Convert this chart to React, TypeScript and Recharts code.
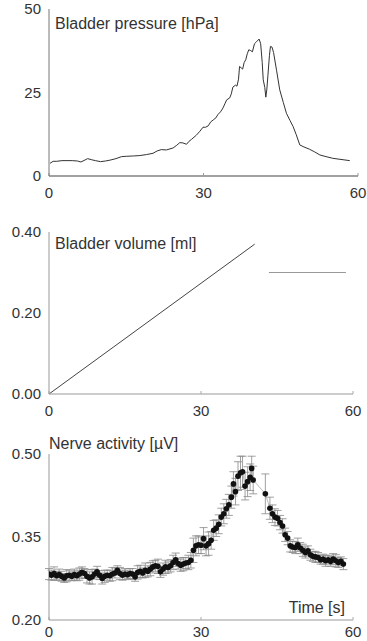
import React from 'react';
import { LineChart, Line, XAxis, YAxis, ErrorBar } from 'recharts';

const FONT = '"Liberation Sans", Arial, Helvetica, sans-serif';

// Panel 1: bladder pressure [hPa]
const pressureTime = [0.2,0.8,1.5,2.5,3.5,4.5,5.5,6.2,7.0,7.5,8.2,9.0,10.0,11.0,12.0,13.0,14.1,15.0,16.4,17.5,18.9,20.2,21.0,21.8,22.8,24.1,24.8,25.4,26.0,26.7,27.2,27.7,28.6,29.3,29.9,30.4,30.9,31.4,31.9,32.4,32.8,33.3,33.8,34.2,34.5,35.1,35.4,35.7,36.2,36.5,36.8,37.0,37.3,37.6,37.9,38.2,38.5,38.8,39.1,39.5,39.9,40.3,40.8,41.1,41.4,41.6,41.9,42.1,42.3,42.5,42.8,43.0,43.3,43.6,44.2,44.8,45.5,46.1,46.8,47.4,48.0,48.7,49.5,50.6,51.6,52.6,53.8,55.1,56.5,58.4];
const pressureValue = [3.8,4.4,4.4,4.6,4.6,4.6,4.5,4.2,4.8,5.2,4.9,4.6,4.3,4.5,4.8,5.2,5.8,5.9,6.0,6.1,6.4,6.8,7.5,7.9,7.8,8.4,9.2,10.0,9.9,9.5,10.4,11.0,12.2,13.4,14.6,14.6,15.0,16.2,16.8,17.4,18.4,19.2,20.4,21.8,22.8,23.4,24.6,26.6,27.2,26.9,29.0,32.8,32.4,32.0,34.0,34.8,36.6,37.8,37.6,37.2,39.6,40.2,41.0,39.6,34.0,28.8,26.5,23.6,26.0,30.0,36.0,38.8,38.6,37.0,31.5,25.8,22.0,18.8,16.6,14.8,12.4,9.3,8.7,8.0,7.2,6.3,5.8,5.3,5.0,4.6];

// Panel 2: bladder volume [ml]
const volumeFillTime = [0, 40.6];
const volumeFillValue = [0, 0.37];
const volumeAfterTime = [43.4, 58.6];
const volumeAfterValue = [0.30, 0.30];

// Panel 3: nerve activity [µV] with error bars
const nerveTime = [
  0,0.5,1,1.5,2,2.5,3,3.5,
  4,4.5,5,5.5,6,6.5,7,7.5,
  8,8.5,9,9.5,10,10.5,11,11.5,
  12,12.5,13,13.5,14,14.5,15,15.5,
  16,16.5,17,17.5,18,18.5,19,19.5,
  20,20.5,21,21.5,22,22.5,23,23.5,
  24,24.5,25,25.5,26,26.5,27,27.5,
  28,28.5,29,29.5,30,30.5,31,31.5,
  32,32.5,33,33.5,34,34.5,35,35.5,
  36,36.4,36.8,37.3,37.8,38.2,38.7,39.2,39.7,40.0,40.3,
  42.7,43.6,44.1,44.6,45.1,45.6,46.1,46.6,47.1,47.6,48.1,48.6,49.1,49.6,50.1,50.6,51.1,51.6,52.1,52.6,53.1,53.6,54.1,54.6,55.1,55.6,56.1,56.6,57.1,57.6,58.1
];
const nerveValue = [
  0.283,0.281,0.284,0.280,0.282,0.279,0.276,0.280,
  0.281,0.279,0.282,0.280,0.283,0.286,0.284,0.279,
  0.276,0.278,0.283,0.287,0.281,0.275,0.279,0.281,
  0.280,0.283,0.285,0.290,0.284,0.281,0.283,0.282,
  0.284,0.283,0.278,0.286,0.288,0.285,0.290,0.288,
  0.292,0.296,0.298,0.297,0.287,0.292,0.296,0.295,
  0.298,0.304,0.309,0.302,0.299,0.301,0.303,0.304,
  0.308,0.326,0.334,0.336,0.335,0.347,0.334,0.338,
  0.344,0.362,0.366,0.373,0.386,0.392,0.401,0.408,
  0.422,0.446,0.432,0.460,0.466,0.468,0.442,0.450,0.458,0.474,0.453,
  0.428,0.402,0.392,0.386,0.384,0.376,0.370,0.354,0.348,0.334,0.332,0.331,0.336,0.330,0.326,0.322,0.325,0.318,0.315,0.314,0.313,0.309,0.310,0.307,0.309,0.306,0.310,0.307,0.304,0.306,0.301
];
const nerveError = [
  0.010,0.009,0.012,0.008,0.010,0.009,0.008,0.011,
  0.009,0.008,0.010,0.009,0.011,0.010,0.009,0.012,
  0.011,0.013,0.009,0.010,0.008,0.010,0.011,0.009,
  0.010,0.012,0.009,0.008,0.011,0.009,0.010,0.008,
  0.009,0.010,0.008,0.012,0.011,0.009,0.013,0.010,
  0.012,0.011,0.010,0.013,0.010,0.011,0.012,0.010,
  0.011,0.013,0.012,0.010,0.011,0.012,0.010,0.013,
  0.014,0.022,0.018,0.016,0.015,0.020,0.018,0.021,
  0.016,0.018,0.015,0.017,0.016,0.018,0.017,0.019,
  0.020,0.022,0.024,0.026,0.030,0.028,0.025,0.027,0.024,0.022,0.025,
  0.036,0.020,0.016,0.015,0.014,0.013,0.013,0.012,0.012,0.011,0.010,0.011,0.012,0.010,0.011,0.010,0.009,0.010,0.009,0.010,0.009,0.008,0.009,0.010,0.008,0.009,0.010,0.011,0.009,0.008,0.010
];

const xTicks = [0, 30, 60];
const pressureTicks = [0, 25, 50];
const volumeTicks = [0, 0.2, 0.4];
const nerveTicks = [0.2, 0.35, 0.5];

const pressureRows = pressureTime.map((t, i) => ({ t, p: pressureValue[i] }));
const volumeFillRows = volumeFillTime.map((t, i) => ({ t, v: volumeFillValue[i] }));
const volumeAfterRows = volumeAfterTime.map((t, i) => ({ t, v: volumeAfterValue[i] }));
const nerveRows = nerveTime.map((t, i) => ({ t, n: nerveValue[i], e: nerveError[i] }));

const tickStyle = { fill: '#333', fontSize: 15, fontFamily: FONT };

const titleStyle = (left: number, top: number): React.CSSProperties => ({
  position: 'absolute',
  left,
  top,
  fontFamily: FONT,
  fontSize: 16,
  lineHeight: '16px',
  color: '#333',
  whiteSpace: 'nowrap',
});

export default function App() {
  return (
    <div style={{ position: 'absolute', left: 0, top: 0, width: 367, height: 641, background: '#fff', overflow: 'hidden' }}>
      {/* Panel 1 */}
      <div style={{ position: 'absolute', left: 0, top: 0 }}>
        <LineChart width={367} height={210} data={pressureRows} margin={{ top: 9, right: 9, bottom: 4, left: 0 }}>
          <XAxis type="number" dataKey="t" domain={[0, 60]} ticks={xTicks} allowDataOverflow
            tickSize={-3} tickMargin={14} height={30}
            axisLine={{ stroke: '#444', strokeWidth: 1.2 }} tickLine={{ stroke: '#999' }} tick={tickStyle} />
          <YAxis type="number" domain={[0, 50]} ticks={pressureTicks} width={49} tickLine={false}
            tickMargin={2} axisLine={{ stroke: '#777' }} tick={tickStyle} />
          <Line dataKey="p" type="linear" stroke="#333" strokeWidth={1} dot={false} isAnimationActive={false} />
        </LineChart>
        <div style={titleStyle(55, 16)}>Bladder pressure [hPa]</div>
      </div>

      {/* Panel 2 */}
      <div style={{ position: 'absolute', left: 0, top: 210 }}>
        <LineChart width={367} height={210} margin={{ top: 22, right: 14, bottom: 6, left: 0 }}>
          <XAxis type="number" dataKey="t" domain={[0, 60]} ticks={xTicks} allowDataOverflow
            tickSize={-3} tickMargin={14} height={20}
            axisLine={{ stroke: '#999' }} tickLine={{ stroke: '#aaa' }} tick={tickStyle} />
          <YAxis type="number" domain={[0, 0.4]} ticks={volumeTicks} width={49} tickLine={false}
            tickMargin={2} axisLine={{ stroke: '#999' }} tick={tickStyle}
            tickFormatter={(v: number) => v.toFixed(2)} />
          <Line data={volumeFillRows} dataKey="v" type="linear" stroke="#444" strokeWidth={1} dot={false} isAnimationActive={false} />
          <Line data={volumeAfterRows} dataKey="v" type="linear" stroke="#999" strokeWidth={1} dot={false} isAnimationActive={false} />
        </LineChart>
        <div style={titleStyle(55, 26)}>Bladder volume [ml]</div>
      </div>

      {/* Panel 3 */}
      <div style={{ position: 'absolute', left: 0, top: 420 }}>
        <LineChart width={367} height={221} data={nerveRows} margin={{ top: 34, right: 14, bottom: 1, left: 0 }}>
          <XAxis type="number" dataKey="t" domain={[0, 60]} ticks={xTicks} allowDataOverflow
            tickSize={-3} tickMargin={9} height={20}
            axisLine={{ stroke: '#999' }} tickLine={{ stroke: '#aaa' }} tick={tickStyle} />
          <YAxis type="number" domain={[0.2, 0.5]} ticks={nerveTicks} width={49} tickLine={false}
            tickMargin={2} axisLine={{ stroke: '#999' }} tick={tickStyle}
            tickFormatter={(v: number) => v.toFixed(2)} />
          <Line dataKey="n" type="linear" stroke="#aaa" strokeWidth={0.8}
            dot={{ r: 2.8, fill: '#111', stroke: 'none' }} isAnimationActive={false}>
            <ErrorBar dataKey="e" direction="y" width={4} stroke="#888" strokeWidth={0.8} />
          </Line>
        </LineChart>
        <div style={titleStyle(49, 16)}>Nerve activity [µV]</div>
        <div style={{ ...titleStyle(0, 180), left: 'auto', right: 22 }}>Time [s]</div>
      </div>
    </div>
  );
}
